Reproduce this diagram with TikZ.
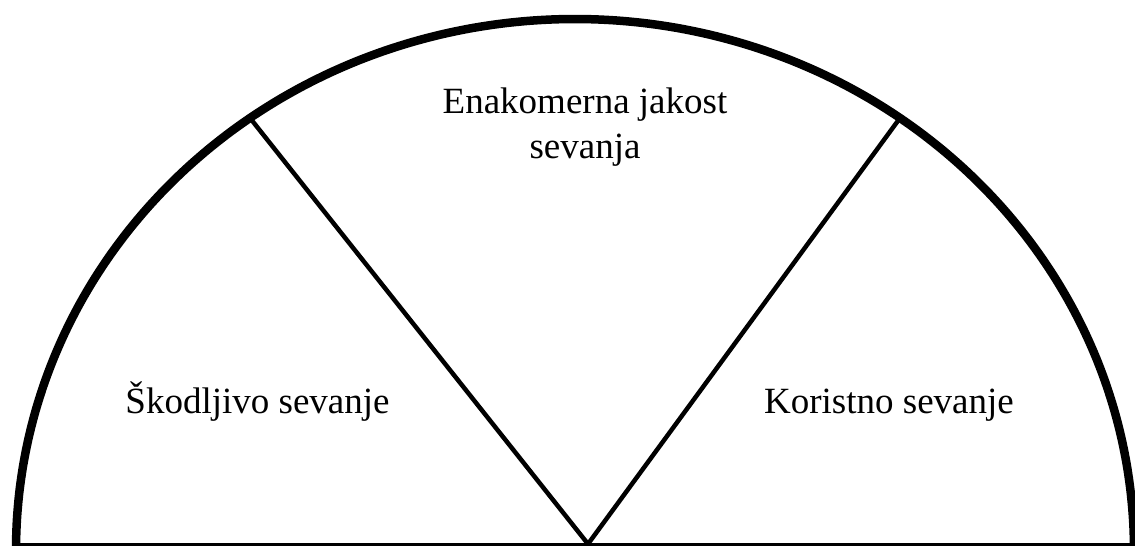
\documentclass[tikz,border=0pt]{standalone}
\usepackage{fontspec}
\setmainfont{Liberation Serif}
\begin{document}
\begin{tikzpicture}[x=1pt,y=-1pt,
  rim/.style={line width=8.5pt},
  divider/.style={line width=4.5pt},
  baseline rule/.style={line width=3pt},
  sector label/.style={font=\fontsize{37}{45}\selectfont, align=center, inner sep=0pt}]
  \useasboundingbox (0,0) rectangle (1135,546);
  \clip (0,0) rectangle (1135,546);
  % centre of the half ellipse and its radii
  \def\cx{575}\def\cy{550}\def\rx{559}\def\ry{531}
  \coordinate (apex) at (588,544);
  \coordinate (leftend) at ({\cx+\rx*cos(125.55)},{\cy-\ry*sin(125.55)});
  \coordinate (rightend) at ({\cx+\rx*cos(54.45)},{\cy-\ry*sin(54.45)});
  \coordinate (baseL) at (16,544.7);
  \coordinate (baseR) at (1135,544.7);
  % outer rim
  \draw[rim, domain=0:180, samples=240, smooth]
    plot ({\cx+\rx*cos(\x)},{\cy-\ry*sin(\x)});
  % floor line
  \draw[baseline rule] (baseL) -- (baseR);
  % two dividers from the apex
  \draw[divider] (apex) -- (leftend);
  \draw[divider] (apex) -- (rightend);
  % sector labels
  \node[sector label, anchor=base] (harm) at (257.5,413) {Škodljivo sevanje};
  \node[sector label, anchor=base] (use) at (889,413) {Koristno sevanje};
  \node[sector label, anchor=base] (even) at (585,158) {Enakomerna jakost\\sevanja};
\end{tikzpicture}
\end{document}
